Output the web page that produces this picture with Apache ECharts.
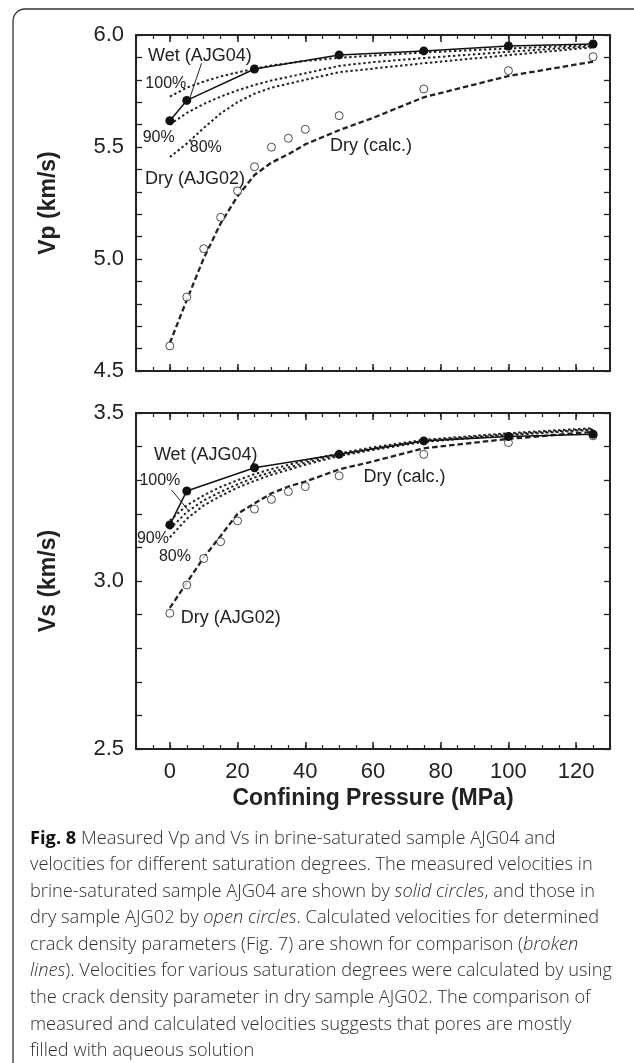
<!DOCTYPE html>
<html><head><meta charset="utf-8">
<script src="https://cdn.jsdelivr.net/npm/echarts@6/dist/echarts.min.js"></script>
<style>
html,body{margin:0;padding:0;background:#fff;width:634px;height:1063px;overflow:hidden}
#chart{position:absolute;left:0;top:0;width:634px;height:1063px}
#cap{position:absolute;left:30px;top:823.5px;font-family:"Open Sans",sans-serif;font-size:18px;font-weight:300;line-height:26.6px;color:#2f2f2f;white-space:nowrap;transform-origin:0 0}
#cap b{color:#111;font-weight:700}
#cap div{display:block}
</style></head><body>
<div id="chart"></div>
<div id="cap">
<div id="l1"><b>Fig. 8</b> Measured Vp and Vs in brine-saturated sample AJG04 and</div>
<div>velocities for different saturation degrees. The measured velocities in</div>
<div>brine-saturated sample AJG04 are shown by <i>solid circles</i>, and those in</div>
<div>dry sample AJG02 by <i>open circles</i>. Calculated velocities for determined</div>
<div>crack density parameters (Fig. 7) are shown for comparison (<i>broken</i></div>
<div id="l6"><i>lines</i>). Velocities for various saturation degrees were calculated by using</div>
<div>the crack density parameter in dry sample AJG02. The comparison of</div>
<div>measured and calculated velocities suggests that pores are mostly</div>
<div>filled with aqueous solution</div>
</div>
<script>
// ---------- data ----------
const pressureWet = [0, 5, 25, 50, 75, 100, 125];
const vpWet = [5.617, 5.708, 5.848, 5.911, 5.929, 5.951, 5.960];
const vsWet = [3.167, 3.268, 3.337, 3.377, 3.417, 3.430, 3.437];

const pressureDry = [0, 5, 10, 15, 20, 25, 30, 35, 40, 50, 75, 100, 125];
const vpDry = [4.612, 4.830, 5.046, 5.186, 5.304, 5.412, 5.499, 5.539, 5.579, 5.640, 5.759, 5.841, 5.903];
const vsDry = [2.904, 2.988, 3.067, 3.117, 3.179, 3.214, 3.243, 3.266, 3.281, 3.313, 3.377, 3.412, 3.432];

const pressureCalc = [0, 5, 10, 15, 20, 25, 30, 35, 40, 50, 60, 75, 100, 125];
const vpDryCalc = [4.625, 4.817, 5.003, 5.159, 5.280, 5.375, 5.430, 5.468, 5.512, 5.575, 5.630, 5.722, 5.817, 5.881];
const vsDryCalc = [2.920, 2.995, 3.070, 3.134, 3.200, 3.231, 3.261, 3.281, 3.296, 3.332, 3.356, 3.395, 3.423, 3.444];

const pressureSat = [0, 5, 10, 15, 20, 25, 30, 40, 50, 60, 75, 100, 125];
const vpSat100 = [5.725, 5.765, 5.792, 5.815, 5.833, 5.850, 5.864, 5.884, 5.898, 5.908, 5.922, 5.940, 5.955];
const vpSat90  = [5.600, 5.652, 5.692, 5.725, 5.753, 5.777, 5.797, 5.829, 5.862, 5.879, 5.897, 5.925, 5.950];
const vpSat80  = [5.455, 5.515, 5.585, 5.650, 5.700, 5.738, 5.765, 5.800, 5.834, 5.850, 5.874, 5.910, 5.945];
const vsSat100 = [3.180, 3.225, 3.255, 3.280, 3.300, 3.318, 3.333, 3.358, 3.380, 3.398, 3.420, 3.440, 3.455];
const vsSat90  = [3.155, 3.205, 3.240, 3.265, 3.288, 3.308, 3.324, 3.352, 3.376, 3.394, 3.417, 3.437, 3.452];
const vsSat80  = [3.130, 3.185, 3.225, 3.253, 3.278, 3.298, 3.316, 3.346, 3.372, 3.390, 3.414, 3.434, 3.450];

const xMajorTicks = [0, 20, 40, 60, 80, 100, 120];
const yTitles = ['Vp (km/s)', 'Vs (km/s)'];
const xTitle = 'Confining Pressure (MPa)';

// annotations in data coordinates: [text, pressure, velocity, fontSize]
const vpNotes = [
  ['Wet (AJG04)', 8.85, 5.906, 18], ['100%', -1.2, 5.781, 16], ['90%', -3.3, 5.542, 16],
  ['80%', 10.6, 5.496, 16], ['Dry (AJG02)', 7.4, 5.357, 18], ['Dry (calc.)', 59.4, 5.504, 18]
];
const vsNotes = [
  ['Wet (AJG04)', 10.6, 3.375, 18], ['100%', -2.95, 3.298, 16], ['90%', -5.0, 3.125, 16],
  ['80%', 1.5, 3.074, 16], ['Dry (AJG02)', 18.0, 2.891, 18], ['Dry (calc.)', 69.3, 3.308, 18]
];
const vpLeader = [[9.35, 5.874], [5.9, 5.718]];
const vsLeader = [[0.5, 3.271], [5.4, 3.211]];

// ---------- chart ----------
const FONT = '"Liberation Sans", Arial, Helvetica, sans-serif';
const INK = '#222';
const pairs = (xs, ys) => xs.map((x, i) => [x, ys[i]]);

const grids = [
  {left: 136, top: 35, width: 474, height: 336},
  {left: 136, top: 413, width: 474, height: 336}
];
const yRanges = [[4.5, 6.0], [2.5, 3.5]];

const xAxis = [], yAxis = [];
for (let g = 0; g < 2; g++) {
  const base = {type: 'value', gridIndex: g, min: -10, max: 130, splitLine: {show: false}};
  const lineOn = {show: true, onZero: false, lineStyle: {color: INK, width: 2}};
  xAxis.push(Object.assign({}, base, {
    position: 'bottom', axisLine: lineOn,
    axisTick: {show: true, inside: true, length: 7, customValues: xMajorTicks, lineStyle: {color: INK, width: 1.5}},
    axisLabel: {show: g === 1, customValues: xMajorTicks, margin: 12, fontSize: 22, color: INK, fontFamily: FONT},
    name: g === 1 ? xTitle : '', nameLocation: 'middle', nameGap: 38,
    nameTextStyle: {fontSize: 23, fontWeight: 'bold', color: INK, fontFamily: FONT}
  }));
  xAxis.push(Object.assign({}, base, {
    position: 'bottom', interval: 5, axisLine: {show: false},
    axisTick: {show: true, inside: true, length: 4, lineStyle: {color: INK, width: 1.2}},
    axisLabel: {show: false}
  }));
  xAxis.push(Object.assign({}, base, {
    position: 'top', axisLine: lineOn,
    axisTick: {show: true, inside: true, length: 7, customValues: xMajorTicks, lineStyle: {color: INK, width: 1.5}},
    axisLabel: {show: false}
  }));
  xAxis.push(Object.assign({}, base, {
    position: 'top', interval: 5, axisLine: {show: false},
    axisTick: {show: true, inside: true, length: 4, lineStyle: {color: INK, width: 1.2}},
    axisLabel: {show: false}
  }));
  const yb = {type: 'value', gridIndex: g, min: yRanges[g][0], max: yRanges[g][1], interval: 0.1,
    splitLine: {show: false}, axisLine: lineOn,
    axisTick: {show: true, inside: true, length: 6, lineStyle: {color: INK, width: 1.3}}};
  yAxis.push(Object.assign({}, yb, {
    position: 'left',
    axisLabel: {show: true, margin: 12, fontSize: 22, color: INK, fontFamily: FONT,
      formatter: v => (Math.abs(v * 2 - Math.round(v * 2)) < 1e-6 ? v.toFixed(1) : '')},
    name: yTitles[g], nameLocation: 'middle', nameGap: 76, nameRotate: 90,
    nameTextStyle: {fontSize: 23, fontWeight: 'bold', color: INK, fontFamily: FONT}
  }));
  yAxis.push(Object.assign({}, yb, {position: 'right', axisLabel: {show: false}}));
}

function lineSeries(g, data, type, width) {
  return {type: 'line', xAxisIndex: g * 4, yAxisIndex: g * 2, data: data, symbol: 'none',
    lineStyle: {color: INK, width: width, type: type}, silent: true, animation: false, z: 2};
}
const series = [];
const sets = [
  {wet: vpWet, dry: vpDry, calc: vpDryCalc, s100: vpSat100, s90: vpSat90, s80: vpSat80},
  {wet: vsWet, dry: vsDry, calc: vsDryCalc, s100: vsSat100, s90: vsSat90, s80: vsSat80}
];
sets.forEach((s, g) => {
  const dot = [2.4, 2.6];
  series.push(lineSeries(g, pairs(pressureSat, s.s100), dot, 2));
  series.push(lineSeries(g, pairs(pressureSat, s.s90), dot, 2));
  series.push(lineSeries(g, pairs(pressureSat, s.s80), dot, 2));
  series.push(lineSeries(g, pairs(pressureCalc, s.calc), [5.5, 3], 2.3));
  series.push({type: 'line', xAxisIndex: g * 4, yAxisIndex: g * 2, data: pairs(pressureWet, s.wet),
    symbol: 'circle', symbolSize: 9, showAllSymbol: true,
    lineStyle: {color: '#111', width: 1.5}, itemStyle: {color: '#111'}, animation: false, z: 4});
  series.push({type: 'scatter', xAxisIndex: g * 4, yAxisIndex: g * 2, data: pairs(pressureDry, s.dry),
    symbol: 'circle', symbolSize: 8,
    itemStyle: {color: '#fff', borderColor: INK, borderWidth: 1}, animation: false, z: 3});
});

const chart = echarts.init(document.getElementById('chart'), null, {renderer: 'canvas'});
chart.setOption({
  backgroundColor: '#fff',
  animation: false,
  grid: grids,
  xAxis: xAxis,
  yAxis: yAxis,
  series: series
});

const graphics = [{
  type: 'rect', shape: {x: 13, y: 9, width: 800, height: 1200, r: 12},
  style: {fill: 'none', stroke: '#333', lineWidth: 1.3}, z: 0, silent: true
}];
[[vpNotes, vpLeader], [vsNotes, vsLeader]].forEach(([notes, leader], g) => {
  notes.forEach(([t, x, y, fs]) => {
    const p = chart.convertToPixel({gridIndex: g}, [x, y]);
    graphics.push({type: 'text', x: p[0], y: p[1], z: 10, silent: true,
      style: {text: t, align: 'center', verticalAlign: 'middle', fill: INK,
        font: fs + 'px ' + FONT}});
  });
  const a = chart.convertToPixel({gridIndex: g}, leader[0]);
  const b = chart.convertToPixel({gridIndex: g}, leader[1]);
  graphics.push({type: 'line', shape: {x1: a[0], y1: a[1], x2: b[0], y2: b[1]}, z: 10, silent: true,
    style: {stroke: INK, lineWidth: 1}});
});
chart.setOption({graphic: graphics});

// caption horizontal condensing to match reference line width
const cap = document.getElementById('cap');
const l6 = document.getElementById('l6');
const range = document.createRange();
range.selectNodeContents(l6);
const w = range.getBoundingClientRect().width;
const target = 582;
cap.style.transform = 'scaleX(' + (target / w).toFixed(4) + ')';
</script>
</body></html>
